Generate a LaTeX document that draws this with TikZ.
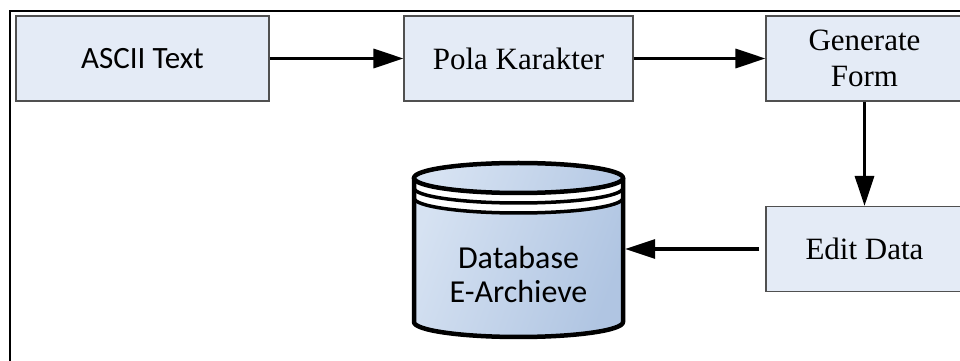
\documentclass[tikz,border=0pt]{standalone}
\usepackage{fontspec}
\setmainfont{Liberation Serif}
\newfontfamily\calibrifont{Carlito}
\usetikzlibrary{arrows.meta}
\definecolor{boxfill}{RGB}{228,235,246}
\definecolor{boxline}{RGB}{80,80,80}
\definecolor{dblight}{RGB}{214,226,242}
\definecolor{dbdark}{RGB}{176,197,226}
\begin{document}
\begin{tikzpicture}
[x=1pt,y=1pt,
  boxdecorate/.style={shape=rectangle,draw=boxline,line width=1.1pt,fill=boxfill,
    minimum height=85pt,inner sep=0pt,align=center,font=\fontsize{31}{36}\selectfont},%
  linedecorate/.style={-{Triangle[length=30pt,width=19pt]},line width=3.2pt},%
  rimdecorate/.style={line width=3.5pt},%
  dbdecorate/.style={align=center,inner sep=0pt,font=\calibrifont\fontsize{32}{34}\selectfont}]
\useasboundingbox (0,0) rectangle (960,361);
%% frame
\draw[line width=2.5pt] (10,-20) rectangle (990,350);
%% boxes
\foreach \nodename/\x/\y/\boxwd/\content in {
  ascii/142.5/302.5/253/{\calibrifont ASCII Text}, pola/518.5/302.5/229/{Pola Karakter},
  gen/864.5/302.5/197/{Generate\\Form}, edit/864.5/112/197/{Edit Data}}
{
  \node (\nodename) at (\x,\y) [boxdecorate,minimum width=\boxwd pt] {\content};
}
%% database
\shade[left color=dblight,right color=dbdark,shading angle=70]
  (414,183) -- (414,39) arc[start angle=180,end angle=360,x radius=104.5,y radius=15]
  -- (623,183) arc[start angle=0,end angle=180,x radius=104.5,y radius=15] -- cycle;
\fill[white] (414,183) arc[start angle=180,end angle=360,x radius=104.5,y radius=15]
  -- (623,163) arc[start angle=0,end angle=-180,x radius=104.5,y radius=15] -- cycle;
\draw[line width=4.5pt,line join=round]
  (414,183) -- (414,39) arc[start angle=180,end angle=360,x radius=104.5,y radius=15] -- (623,183);
\draw[line width=4.5pt] (518.5,183) ellipse[x radius=104.5,y radius=15];
\foreach \rim in {173,163}
  \draw[rimdecorate] (414,\rim) arc[start angle=180,end angle=360,x radius=104.5,y radius=15];
\node (db) at (518.5,110) [minimum width=209pt,minimum height=174pt,inner sep=0pt] {};
\node (dblabel) at (518.5,86) [dbdecorate] {Database\\E-Archieve};
%% edges or lines
\draw[linedecorate] (ascii) -- (pola);
\draw[linedecorate] (pola) -- (gen);
\draw[linedecorate] (gen) -- (edit);
\draw[linedecorate,shorten <=6pt,shorten >=2pt] (edit.west) -- (edit.west -| db.east);
\end{tikzpicture}
\end{document}
